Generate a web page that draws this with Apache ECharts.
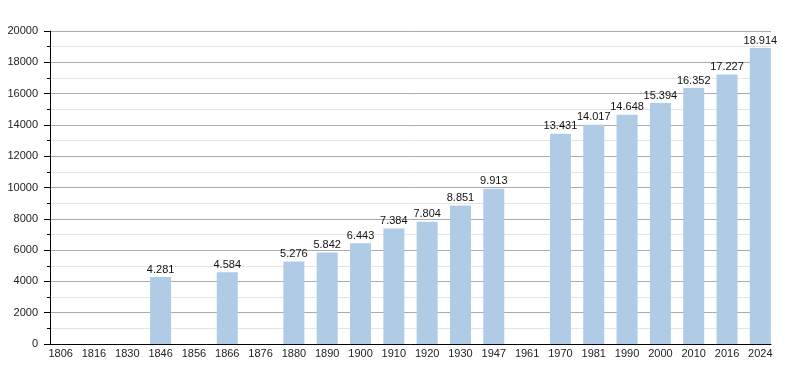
<!DOCTYPE html>
<html><head><meta charset="utf-8">
<script src="https://cdn.jsdelivr.net/npm/echarts@6/dist/echarts.min.js"></script>
<style>html,body{margin:0;padding:0;background:#fff}#c{width:800px;height:373px}</style>
</head><body><div id="c"></div>
<script>
const years = ['1806','1816','1830','1846','1856','1866','1876','1880','1890','1900','1910','1920','1930','1947','1961','1970','1981','1990','2000','2010','2016','2024'];
const population = [null,null,null,4281,null,4584,null,5276,5842,6443,7384,7804,8851,9913,null,13431,14017,14648,15394,16352,17227,18914];
const yTicks = {min:0, max:20000, interval:2000};
const font = 'Liberation Sans, Arial, sans-serif';
function fmt(n){return String(n).replace(/\B(?=(\d{3})+(?!\d))/g,'.');}
const chart = echarts.init(document.getElementById('c'), null, {renderer:'canvas'});
chart.setOption({
  animation:false,
  grid:[
    {left:50, right:29, top:31, bottom:29},
    {left:44, right:23, top:31, bottom:29}
  ],
  xAxis:[
    {gridIndex:0, type:'value', min:0, max:1, axisLine:{show:true, onZero:false, lineStyle:{color:'#000', width:1}},
     axisTick:{show:false}, axisLabel:{show:false}, splitLine:{show:false}},
    {gridIndex:1, type:'category', data:years, axisLine:{show:false}, axisTick:{show:false},
     axisLabel:{color:'#222', fontSize:11, fontFamily:font, margin:4, interval:0}}
  ],
  yAxis:[
    {gridIndex:0, type:'value', min:yTicks.min, max:yTicks.max, interval:yTicks.interval,
     axisLine:{show:true, lineStyle:{color:'#000', width:1}},
     axisTick:{show:true, length:6, lineStyle:{color:'#000'}},
     minorTick:{show:true, splitNumber:2, length:3, lineStyle:{color:'#000'}},
     splitLine:{show:true, lineStyle:{color:'#aaaaaa', width:1}},
     minorSplitLine:{show:true, lineStyle:{color:'#e4e4e4', width:1}},
     axisLabel:{color:'#222', fontSize:11, fontFamily:font, margin:12, formatter:v=>String(v)}},
    {gridIndex:1, type:'value', min:yTicks.min, max:yTicks.max, show:false, splitLine:{show:false}}
  ],
  series:[{
    type:'bar', xAxisIndex:1, yAxisIndex:1, data:population, barWidth:21,
    itemStyle:{color:'#b0cbe6'},
    label:{show:true, position:'top', distance:2, color:'#111', fontSize:11, fontFamily:font,
      formatter:p=>p.value==null?'':fmt(p.value)}
  }]
});
</script></body></html>
